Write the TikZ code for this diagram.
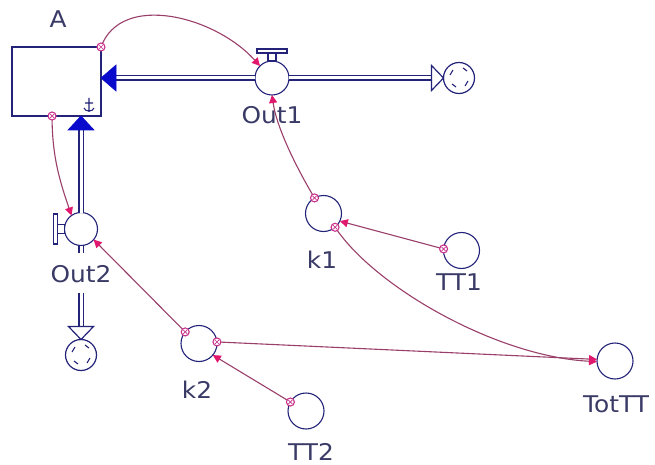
\documentclass[tikz,border=0pt]{standalone}
\usepackage{fontspec}
\setmainfont{DejaVu Sans}[FakeStretch=1.08]
\usetikzlibrary{arrows.meta,calc}

\definecolor{navy}{HTML}{23237A}
\definecolor{flowblue}{HTML}{0A0ACC}
\definecolor{labelink}{HTML}{3A3A66}
\definecolor{linkline}{HTML}{9A3F6A}
\definecolor{linkhead}{HTML}{E0186E}
\definecolor{linkdot}{HTML}{C8308A}

\tikzset{
  stock/.style={draw=navy, line width=1.2pt, fill=white, minimum width=89pt,
    minimum height=69pt, inner sep=0pt, outer sep=0pt},
  valve/.style={circle, draw=navy, line width=1.1pt, fill=white, minimum size=34pt,
    inner sep=0pt, outer sep=0pt},
  conv/.style={circle, draw=navy, line width=1.1pt, minimum size=36pt,
    inner sep=0pt, outer sep=0pt},
  cloud/.style={circle, draw=navy, line width=1.2pt, minimum size=31pt,
    inner sep=0pt, outer sep=0pt},
  lbl/.style={text=labelink, font=\fontsize{23}{26}\selectfont, inner sep=0pt},
  pipe/.style={draw=navy, line width=1.2pt, double=white, double distance=3pt},
  link/.style={draw=linkline, line width=1.1pt,
    -{Triangle[length=8pt,width=8pt,color=linkhead]}},
  linkstart/.style={draw=linkdot, line width=1.1pt, fill=white},
  flowhead/.style={fill=flowblue, draw=flowblue, line width=0.6pt},
  sinkhead/.style={fill=white, draw=navy, line width=1.2pt},
  handle/.style={fill=white, draw=navy, line width=1.1pt},
}

% small ring marking where an information link leaves its source
\newcommand{\lsmark}[1]{%
  \draw[linkstart] (#1) circle (4pt);
  \draw[linkdot, line width=0.7pt] ($(#1)+(-2,-2)$) -- ($(#1)+(2,2)$)
    ($(#1)+(-2,2)$) -- ($(#1)+(2,-2)$);}

% inner strokes of a cloud (source/sink)
\newcommand{\cloudmarks}[1]{%
  \draw[navy, line width=1.1pt]
    ($(#1)+(-9,-3)$) -- ($(#1)+(-6,-8)$)
    ($(#1)+(4,-10)$) -- ($(#1)+(8,-7)$)
    ($(#1)+(9,3)$) -- ($(#1)+(6,8)$)
    ($(#1)+(-3,9)$) -- ($(#1)+(-7,6)$);}

\begin{document}
\begin{tikzpicture}[x=1pt,y=-1pt]
\useasboundingbox (0,0) rectangle (655,465);
\fill[white] (0,0) rectangle (655,465);

% stock
\node[stock] (A) at (56.5,81.5) {};
\draw[navy, line width=1.1pt]
  ($(A.south east)+(-12,-18)$) -- ($(A.south east)+(-12,-4)$)
  ($(A.south east)+(-16,-13)$) -- ($(A.south east)+(-8,-13)$)
  ($(A.south east)+(-17,-8)$) .. controls ($(A.south east)+(-16,-4)$) and ($(A.south east)+(-8,-4)$) .. ($(A.south east)+(-7,-8)$);
\node[lbl] (lA) at (58,19) {A};

% flow valves
\node[valve] (v1) at (272,78) {};
\node[valve, minimum size=33pt] (v2) at (81,229) {};

% clouds
\node[cloud] (c1) at (459,78) {};
\node[cloud] (c2) at (81,355) {};
\cloudmarks{c1}
\cloudmarks{c2}

% converters
\node[conv] (k1) at (323.5,213.5) {};
\node[conv] (TT1) at (461.5,250.5) {};
\node[conv] (k2) at (199,343.5) {};
\node[conv] (TT2) at (306,411) {};
\node[conv] (Tot) at (615,361) {};

% labels
\node[lbl] (lOut1) at (272,115) {Out1};
\node[lbl] (lOut2) at (81,274) {Out2};
\node[lbl] (lk1) at (322,260) {k1};
\node[lbl] (lTT1) at (459,282) {TT1};
\node[lbl] (lk2) at (197,390) {k2};
\node[lbl] (lTT2) at (311,452) {TT2};
\node[lbl] (lTot) at (616,404) {TotTT};

% flow Out1: from stock A to the right-hand cloud
\coordinate (t1) at (A.east |- v1.west);
\draw[pipe] ($(t1)+(15,0)$) -- (v1.west);
\draw[pipe] (v1.east) -- ($(c1.west)+(-12,0)$);
\fill[flowhead] (t1) -- ++(15,-13) -- ++(0,26) -- cycle;
\draw[sinkhead] (c1.west) -- ++(-12,-12.5) -- ++(0,25) -- cycle;
\draw[handle] ($(v1.north)+(-15,-12)$) rectangle ($(v1.north)+(15,-8)$);
\draw[handle] ($(v1.north)+(-4,-8)$) rectangle ($(v1.north)+(4,0)$);

% flow Out2: from stock A down to the lower cloud
\coordinate (t2) at (A.south -| v2.north);
\coordinate (p2) at ($(lOut2.south)+(0,10)$);
\draw[pipe] ($(t2)+(0,14)$) -- (v2.north);
\draw[pipe] (v2.south) -- ++(0,7);
\draw[pipe] (p2 -| v2.south) -- ($(c2.north)+(0,-13)$);
\fill[flowhead] (t2) -- ++(-13,14) -- ++(26,0) -- cycle;
\draw[sinkhead] (c2.north) -- ++(-12.5,-13) -- ++(25,0) -- cycle;
\draw[handle] ($(v2.west)+(-11,-15)$) rectangle ($(v2.west)+(-7,15)$);
\draw[handle] ($(v2.west)+(-7,-4.5)$) rectangle ($(v2.west)+(0,4.5)$);

% information links
\coordinate (sA2) at ($(A.south west)!0.45!(A.south east)$);
\draw[link] (A.north east) .. controls +(20,-55) and +(-45,-50) .. (v1.135);
\draw[link] (sA2) .. controls +(0,40) and +(-12,-35) .. (v2.125);
\draw[link] (k1.120) .. controls +(-15,-25) and +(5,35) .. (v1.south);
\draw[link] (TT1.175) -- (k1.-25);
\draw[link] (k1.-50) .. controls +(40,60) and +(-100,-5) .. (Tot.182);
\draw[link] (k2.5) -- (Tot.175);
\draw[link] (TT2.150) -- (k2.-40);
\draw[link] (k2.140) -- (v2.-40);

\lsmark{A.north east}
\lsmark{sA2}
\lsmark{k1.120}
\lsmark{TT1.175}
\lsmark{k1.-50}
\lsmark{k2.5}
\lsmark{TT2.150}
\lsmark{k2.140}
\end{tikzpicture}
\end{document}
